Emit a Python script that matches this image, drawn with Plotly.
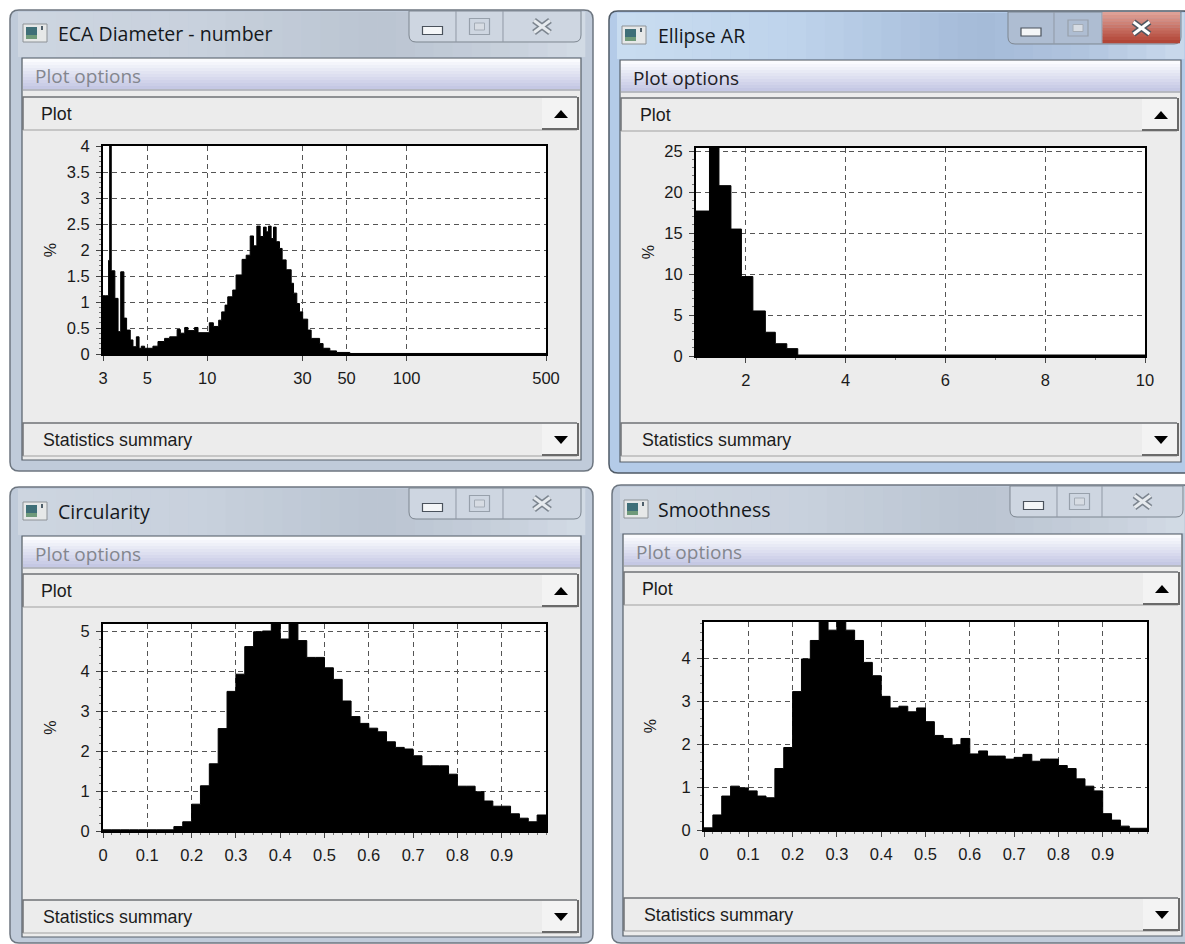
import plotly.graph_objects as go

W, H = 1185, 944

# ---------- data ----------
eca_edges = [3.00, 3.08, 3.20, 3.24, 3.30, 3.44, 3.57, 3.68, 3.82, 3.94, 4.11, 4.24, 4.41, 4.55, 4.67, 4.85,
             5.34, 5.66, 6.11, 6.48, 7.06, 7.33, 7.71, 8.00, 8.64, 8.99, 10.24, 10.73, 11.41, 11.81, 12.28,
             12.67, 13.42, 13.95, 14.95, 15.68, 16.42, 17.06, 17.73, 18.42, 19.15, 19.75, 20.28, 20.91, 21.49,
             22.16, 23.03, 23.75, 24.87, 26.36, 27.08, 28.13, 29.02, 30.1, 31.9, 33.2, 36.6, 38.1, 41.2, 44.5,
             51.9, 500.0]
eca_values = [1.12, 1.12, 1.80, 4.5, 1.60, 1.07, 0.43, 1.58, 0.69, 0.46, 0.27, 0.14, 0.33, 0.11, 0.15,
              0.11, 0.15, 0.24, 0.30, 0.33, 0.47, 0.40, 0.51, 0.45, 0.51, 0.41, 0.60, 0.53, 0.65, 0.81,
              0.94, 1.10, 1.23, 1.52, 1.82, 1.90, 2.27, 2.08, 2.46, 2.26, 2.44, 2.35, 2.46, 2.22, 2.44,
              2.16, 2.03, 1.81, 1.62, 1.36, 1.17, 0.97, 0.81, 0.67, 0.46, 0.30, 0.20, 0.11, 0.06, 0.03, 0.01]
eca_ticks = [3, 5, 10, 30, 50, 100, 500]
eca_yticks = [0, 0.5, 1, 1.5, 2, 2.5, 3, 3.5, 4]

ar_edges = [1.0, 1.27, 1.46, 1.70, 1.91, 2.14, 2.39, 2.59, 2.82, 3.04, 10.0]
ar_values = [17.7, 27.0, 20.8, 15.5, 9.7, 5.5, 2.9, 1.5, 0.9, 0.12]
ar_ticks = [2, 4, 6, 8, 10]
ar_yticks = [0, 5, 10, 15, 20, 25]

unit_edges = [0.00, 0.02, 0.04, 0.06, 0.08, 0.10, 0.12, 0.14, 0.16, 0.18, 0.20, 0.22, 0.24, 0.26, 0.28, 0.30, 0.32,
              0.34, 0.36, 0.38, 0.40, 0.42, 0.44, 0.46, 0.48, 0.50, 0.52, 0.54, 0.56, 0.58, 0.60, 0.62, 0.64, 0.66,
              0.68, 0.70, 0.72, 0.74, 0.76, 0.78, 0.80, 0.82, 0.84, 0.86, 0.88, 0.90, 0.92, 0.94, 0.96, 0.98, 1.00]
unit_ticks = [0, 0.1, 0.2, 0.3, 0.4, 0.5, 0.6, 0.7, 0.8, 0.9]
circ_values = [0.03, 0.03, 0.03, 0.03, 0.03, 0.03, 0.03, 0.03, 0.11, 0.23, 0.67, 1.13, 1.68, 2.56, 3.49, 3.92, 4.61,
               4.98, 5.00, 5.40, 4.80, 5.40, 4.76, 4.34, 4.34, 4.08, 3.79, 3.25, 2.86, 2.69, 2.57, 2.48, 2.23, 2.09,
               2.05, 1.88, 1.63, 1.63, 1.63, 1.42, 1.12, 1.12, 0.98, 0.75, 0.62, 0.62, 0.43, 0.32, 0.23, 0.40]
circ_yticks = [0, 1, 2, 3, 4, 5]
smooth_values = [0.05, 0.35, 0.79, 1.02, 0.98, 0.91, 0.79, 0.75, 1.43, 1.92, 3.22, 3.98, 4.41, 5.00, 4.65, 5.00, 4.65,
                 4.41, 3.90, 3.59, 3.11, 2.84, 2.88, 2.75, 2.84, 2.52, 2.20, 2.13, 1.98, 2.13, 1.77, 1.84, 1.72, 1.72,
                 1.65, 1.69, 1.76, 1.60, 1.65, 1.65, 1.50, 1.43, 1.19, 1.02, 0.91, 0.38, 0.23, 0.09, 0.04, 0.04]
smooth_yticks = [0, 1, 2, 3, 4]

titles = ["ECA Diameter - number", "Ellipse AR", "Circularity", "Smoothness"]

# ---------- window chrome ----------
windows = [
    dict(x0=10, x1=593, y0=10, y1=471, ix0=22, ix1=581, iy0=58, iy1=460, plot=97, stats=423, btn=(409, 456, 503, 581), bb=42,
         icon=23, tx=58, ox=35, px=41, sx=43, tc=(.5, 33), active=False),
    dict(x0=609, x1=1192, y0=11, y1=473, ix0=620, ix1=1181, iy0=60, iy1=462, plot=98, stats=423, btn=(1008, 1054, 1102, 1181), bb=44,
         icon=622, tx=658, ox=633, px=640, sx=642, tc=(.5, 35), active=True),
    dict(x0=10, x1=593, y0=487, y1=943, ix0=22, ix1=581, iy0=536, iy1=937, plot=574, stats=900, btn=(409, 456, 503, 581), bb=519,
         icon=23, tx=58, ox=35, px=41, sx=43, tc=(.5, 511), active=False),
    dict(x0=612, x1=1192, y0=485, y1=943, ix0=623, ix1=1182, iy0=534, iy1=936, plot=572, stats=898, btn=(1010, 1057, 1102, 1183), bb=517,
         icon=624, tx=658, ox=636, px=642, sx=644, tc=(.5, 509), active=False),
]


def X(p):
    return p / W


def Y(p):
    return 1 - p / H


shapes, notes = [], []


def rect(x0, y0, x1, y1, fill=None, line=None, lw=0):
    shapes.append(dict(type="rect", xref="paper", yref="paper", x0=X(x0), x1=X(x1), y0=Y(y0), y1=Y(y1),
                       fillcolor=fill or "rgba(0,0,0,0)", line=dict(color=line or "rgba(0,0,0,0)", width=lw),
                       layer="below"))


def path(points, fill=None, line=None, lw=0, close=True):
    d = "M " + " L ".join(f"{X(a):.5f},{Y(b):.5f}" for a, b in points) + (" Z" if close else "")
    shapes.append(dict(type="path", xref="paper", yref="paper", path=d, fillcolor=fill or "rgba(0,0,0,0)",
                       line=dict(color=line or "rgba(0,0,0,0)", width=lw), layer="below"))


def rounded(x0, y0, x1, y1, r, fill, line, lw, top=True, bottom=True):
    rt = r if top else 0
    rb = r if bottom else 0
    d = (f"M {X(x0 + rt):.5f},{Y(y0):.5f} L {X(x1 - rt):.5f},{Y(y0):.5f} "
         f"Q {X(x1):.5f},{Y(y0):.5f} {X(x1):.5f},{Y(y0 + rt):.5f} L {X(x1):.5f},{Y(y1 - rb):.5f} "
         f"Q {X(x1):.5f},{Y(y1):.5f} {X(x1 - rb):.5f},{Y(y1):.5f} L {X(x0 + rb):.5f},{Y(y1):.5f} "
         f"Q {X(x0):.5f},{Y(y1):.5f} {X(x0):.5f},{Y(y1 - rb):.5f} L {X(x0):.5f},{Y(y0 + rt):.5f} "
         f"Q {X(x0):.5f},{Y(y0):.5f} {X(x0 + rt):.5f},{Y(y0):.5f} Z")
    shapes.append(dict(type="path", xref="paper", yref="paper", path=d, fillcolor=fill,
                       line=dict(color=line, width=lw), layer="below"))


def mix(c0, c1, t):
    return "rgb(" + ",".join(str(round(a + (b - a) * t)) for a, b in zip(c0, c1)) + ")"


def vgrad(x0, y0, x1, y1, c0, c1, n):
    for i in range(n):
        a = y0 + (y1 - y0) * i / n
        b = y0 + (y1 - y0) * (i + 1) / n
        rect(x0, a, x1, b + 0.3, mix(c0, c1, i / max(n - 1, 1)))


def hstops(x0, y0, x1, y1, stops, n):
    for i in range(n):
        t = i / n
        for (t0, c0), (t1, c1) in zip(stops, stops[1:]):
            if t0 <= t <= t1:
                col = mix(c0, c1, (t - t0) / (t1 - t0))
                break
        a = x0 + (x1 - x0) * i / n
        b = x0 + (x1 - x0) * (i + 1) / n
        rect(a, y0, b + 0.3, y1, col)


def text(x, y, s, size, color, family, anchor="left"):
    notes.append(dict(xref="paper", yref="paper", x=X(x - 2), y=Y(y), text=s, showarrow=False, xanchor=anchor,
                      yanchor="middle", font=dict(size=size, color=color, family=family)))


SEGOE = "Open Sans"
ARIAL = "Liberation Sans"


def section_bar(w, top, label_x, label, up):
    h = 33
    rect(w["ix0"] + 1, top, w["ix1"] - 1, top + h, "#ececec")
    path([(w["ix0"] + 1, top + h), (w["ix0"] + 1, top), (w["ix1"] - 4, top)], line="#6f7276", lw=1.5, close=False)
    path([(w["ix0"] + 1, top + h), (w["ix1"] - 4, top + h)], line="#a0a0a0", lw=1.2, close=False)
    bx0 = w["ix1"] - 39
    bx1 = w["ix1"] - 3
    rect(bx0, top + 1, bx1, top + h - 2, "#f3f3f3")
    path([(bx0, top + h - 1), (bx1, top + h - 1), (bx1, top)], line="#6a6a6a", lw=2, close=False)
    cx = (bx0 + bx1) / 2 + 1
    cy = top + h / 2 + 0.5
    if up:
        path([(cx - 7, cy + 4), (cx + 7, cy + 4), (cx, cy - 4)], fill="#000000")
    else:
        path([(cx - 7, cy - 4), (cx + 7, cy - 4), (cx, cy + 4)], fill="#000000")
    text(label_x, top + h / 2 + 0.5, label, 17.8, "#1c1c1c", ARIAL)


for w, title in zip(windows, titles):
    active = w["active"]
    edge = "#4f5a66" if active else "#6d7680"
    base = (180, 203, 232) if active else (192, 203, 218)
    rounded(w["x0"], w["y0"], w["x1"], w["y1"], 9, mix(base, base, 0), edge, 1.5)
    # title bar glass
    if active:
        stops = [(0, (200, 220, 240)), (0.3, (190, 211, 235)), (0.62, (164, 186, 216)), (0.8, (176, 196, 222)), (1, (205, 220, 238))]
    else:
        stops = [(0, (205, 213, 224)), (0.3, (200, 209, 221)), (0.62, (186, 196, 209)), (0.8, (196, 205, 217)), (1, (212, 220, 230))]
    hstops(w["x0"] + 8, w["y0"] + 2, min(w["x1"] - 8, W), w["iy0"] - 1, stops, 30)
    # icon
    ic = w["icon"]
    iy = w["tc"][1]
    rect(ic, iy - 9, ic + 24, iy + 9, "#e6e8e8", "#8d9296", 1)
    rect(ic + 3, iy - 6, ic + 14, iy + 6, "#3f6f78")
    rect(ic + 3, iy + 2, ic + 14, iy + 6, "#6f9a7a")
    rect(ic + 18, iy - 7, ic + 20, iy - 3, "#4f5f6a")
    text(w["tx"], iy + 0.5, title, 19.5, "#15181c", SEGOE)
    # caption buttons
    b0, b1, b2, b3 = w["btn"]
    top = w["y0"] + 1
    bb = w["bb"]
    rounded(b0, top, b3, bb, 7, "#ced6e1" if not active else "#aebdd2", "#7d8690", 1, top=False)
    path([(b1, top), (b1, bb)], line="#9099a5", lw=1, close=False)
    path([(b2, top), (b2, bb)], line="#9099a5", lw=1, close=False)
    if active:
        vgrad(b2 + 0.5, top, b3 - 1, bb - 1, (222, 160, 150), (178, 70, 55), 10)
    mid = (top + bb) / 2
    mx = (b0 + b1) / 2
    rect(mx - 10, mid, mx + 10, mid + 8, "#f4f6f8", "#4a525c", 1.2)
    qx = (b1 + b2) / 2
    rect(qx - 10, mid - 8, qx + 10, mid + 8, "rgba(0,0,0,0)", "#97a0ab", 1.2)
    rect(qx - 5, mid - 3.5, qx + 5, mid + 3.5, "#d7dce3", "#a4acb6", 1)
    cx = (b2 + b3) / 2
    cy = mid
    col_out = "#4d5660" if active else "#7b848e"
    for a, b in (((cx - 8, cy - 6), (cx + 8, cy + 6)), ((cx - 8, cy + 6), (cx + 8, cy - 6))):
        path([a, b], line=col_out, lw=6, close=False)
    for a, b in (((cx - 8, cy - 6), (cx + 8, cy + 6)), ((cx - 8, cy + 6), (cx + 8, cy - 6))):
        path([a, b], line="#ffffff" if active else "#e6eaee", lw=3, close=False)
    # client area
    rect(w["ix0"], w["iy0"], w["ix1"], w["iy1"], "#ececec", "#56606a", 1.2)
    vgrad(w["ix0"] + 1, w["iy0"] + 1, w["ix1"] - 1, w["iy0"] + 31, (250, 251, 254), (197, 200, 228), 10)
    path([(w["ix0"] + 1, w["iy0"] + 32), (w["ix1"] - 1, w["iy0"] + 32)], line="#858a96", lw=1, close=False)
    text(w["ox"], w["iy0"] + 18, "Plot options", 19, "#1e2024" if active else "#83868e", SEGOE)
    section_bar(w, w["plot"], w["px"], "Plot", True)
    section_bar(w, w["stats"], w["sx"], "Statistics summary", False)


# ---------- plots ----------
def step(edges, values):
    return list(edges), list(values) + [values[-1]]


panels = [
    dict(box=(103, 146, 546, 354), edges=eca_edges, vals=eca_values, xr=[0.47712, 2.69897], xt="log", xticks=eca_ticks,
         yr=[0, 4], yticks=eca_yticks, xminor=None, yminor=0.1, title_off=6),
    dict(box=(696, 148, 1145, 356), edges=ar_edges, vals=ar_values, xr=[1, 10], xt="linear", xticks=ar_ticks,
         yr=[0, 25.4], yticks=ar_yticks, xminor=1, yminor=1, title_off=6),
    dict(box=(103, 624, 546, 831), edges=unit_edges, vals=circ_values, xr=[0, 1], xt="linear", xticks=unit_ticks,
         yr=[0, 5.175], yticks=circ_yticks, xminor=0.02, yminor=0.2, title_off=20),
    dict(box=(704, 622, 1147, 830), edges=unit_edges, vals=smooth_values, xr=[0, 1], xt="linear", xticks=unit_ticks,
         yr=[0, 4.84], yticks=smooth_yticks, xminor=0.02, yminor=0.2, title_off=21),
]

fig = go.Figure()
axes = {}
for i, p in enumerate(panels):
    n = "" if i == 0 else str(i + 1)
    x0, y0, x1, y1 = p["box"]
    rect(x0, y0, x1, y1, "#ffffff")
    xs, ys = step(p["edges"], p["vals"])
    fig.add_trace(go.Scatter(x=xs, y=ys, mode="lines", line=dict(color="#000000", width=1, shape="hv"),
                             fill="tozeroy", fillcolor="#000000", xaxis=f"x{n}", yaxis=f"y{n}",
                             name=titles[i], showlegend=False, hoverinfo="skip"))
    common = dict(automargin=False, showline=True, linecolor="#000000", linewidth=2, mirror=True, ticks="outside",
                  ticklen=5, tickwidth=1, tickcolor="#444444", showgrid=True, gridcolor="#555555", gridwidth=1.2,
                  griddash="5px,4px", zeroline=False, tickfont=dict(family=ARIAL, size=16.5, color="#1a1a1a"))
    xminor = dict(ticks="outside", ticklen=2, tickcolor="#777777", showgrid=False)
    if p["xminor"]:
        xminor["dtick"] = p["xminor"]
    axes[f"xaxis{n}"] = dict(common, domain=[X(x0), X(x1)], type=p["xt"], range=p["xr"], tickmode="array",
                             tickvals=p["xticks"], ticktext=[str(t) for t in p["xticks"]], anchor=f"y{n}",
                             ticklabelstandoff=3, **({"minor": xminor} if p["xminor"] else {}))
    axes[f"yaxis{n}"] = dict(common, domain=[Y(y1), Y(y0)], range=p["yr"], tickmode="array",
                             tickvals=p["yticks"], ticktext=[str(t) for t in p["yticks"]], anchor=f"x{n}",
                             ticklabelstandoff=3,
                             minor=dict(dtick=p["yminor"], ticks="outside", ticklen=2, tickcolor="#777777", showgrid=False),
                             title=dict(text="%", standoff=p["title_off"], font=dict(family=ARIAL, size=16, color="#1a1a1a")))

fig.update_layout(width=W, height=H, margin=dict(l=0, r=0, t=0, b=0, pad=0), paper_bgcolor="#ffffff",
                  plot_bgcolor="#ffffff", showlegend=False, shapes=shapes, annotations=notes, **axes)

fig.write_html("out.html", config={"displayModeBar": False},
               post_script="document.body.style.margin='0';document.body.style.overflow='hidden';")
